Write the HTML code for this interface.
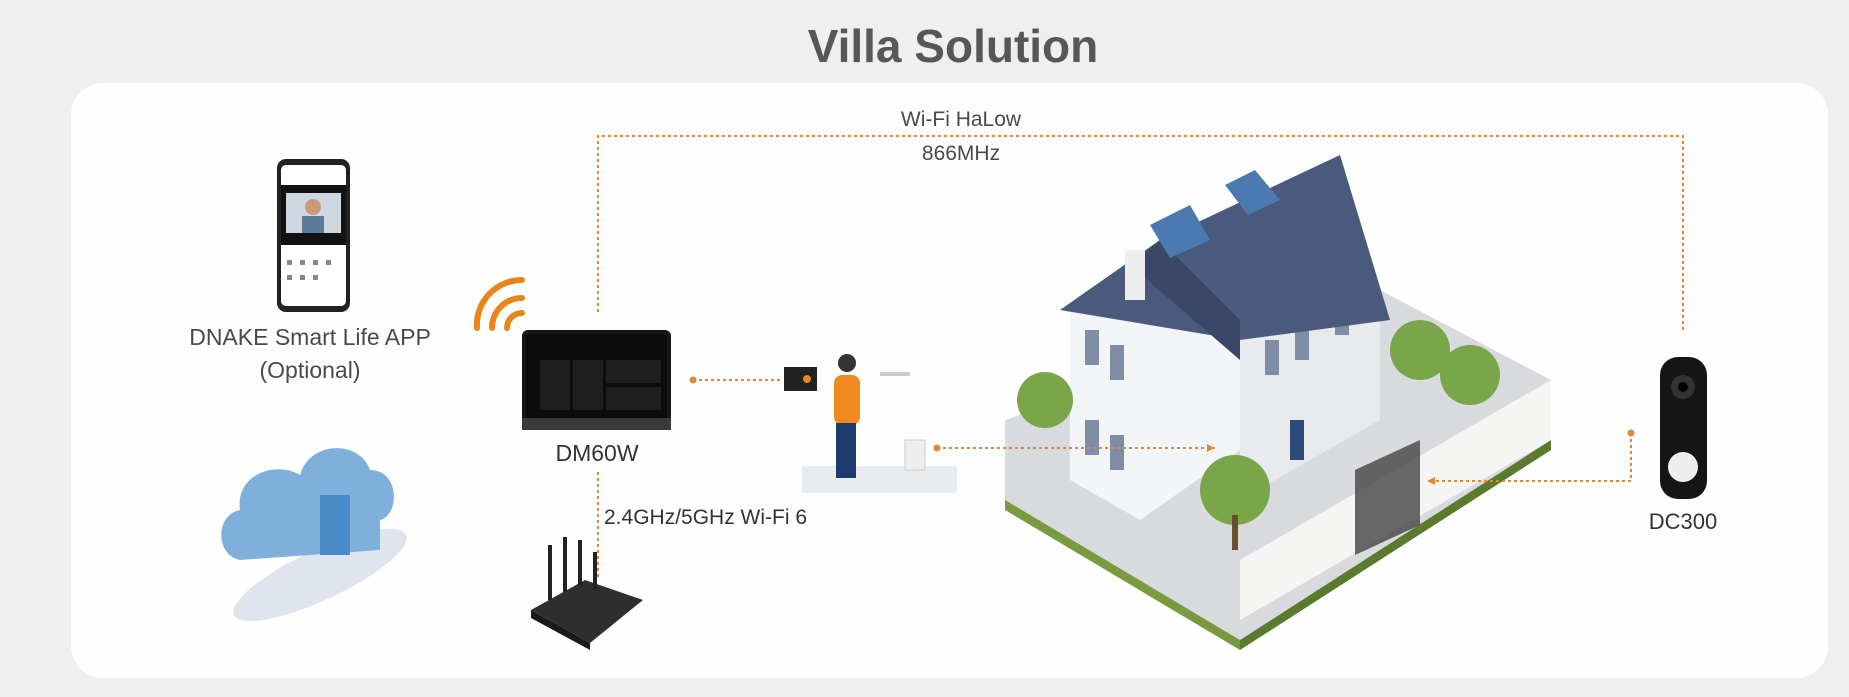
<!DOCTYPE html>
<html><head><meta charset="utf-8"><style>
html,body{margin:0;padding:0;width:1849px;height:697px;overflow:hidden;background:#efefef;font-family:"Liberation Sans",sans-serif}
</style></head><body>
<svg width="1849" height="697" viewBox="0 0 1849 697" xmlns="http://www.w3.org/2000/svg" font-family="Liberation Sans, sans-serif">
<rect x="0" y="0" width="1849" height="697" fill="#efefef"/>
<rect x="71" y="83" width="1757" height="595" rx="32" fill="#fefefe"/>
<text x="953" y="62" text-anchor="middle" font-size="46" font-weight="bold" fill="#575757">Villa Solution</text>
<g stroke="#e0883a" stroke-width="2" stroke-dasharray="3,3" fill="none">
<polyline points="598,312 598,136 1683,136 1683,330"/>
<line x1="693" y1="380" x2="782" y2="380"/>
<line x1="598" y1="472" x2="598" y2="578"/>
</g>
<circle cx="693" cy="380" r="3.5" fill="#e0883a"/>
<text x="961" y="126" text-anchor="middle" font-size="21" fill="#4a4a4a">Wi-Fi HaLow</text>
<text x="961" y="160" text-anchor="middle" font-size="21" fill="#4a4a4a">866MHz</text>
<!-- phone -->
<rect x="277" y="159" width="73" height="153" rx="9" fill="#222"/>
<rect x="281" y="165" width="65" height="141" rx="5" fill="#fff"/>
<rect x="281" y="185" width="65" height="60" fill="#111"/>
<rect x="286" y="193" width="55" height="40" fill="#cfd8e0"/>
<circle cx="313" cy="207" r="8" fill="#c99a7a"/><rect x="302" y="216" width="22" height="17" fill="#5a7a9a"/>
<g fill="#888"><rect x="287" y="260" width="5" height="5"/><rect x="300" y="260" width="5" height="5"/><rect x="313" y="260" width="5" height="5"/><rect x="326" y="260" width="5" height="5"/><rect x="287" y="275" width="5" height="5"/><rect x="300" y="275" width="5" height="5"/><rect x="313" y="275" width="5" height="5"/></g>
<text x="310" y="345" text-anchor="middle" font-size="23" fill="#4a4a4a">DNAKE Smart Life APP</text>
<text x="310" y="378" text-anchor="middle" font-size="23" fill="#4a4a4a">(Optional)</text>
<g stroke="#e8861e" stroke-width="6" fill="none" stroke-linecap="round">
<path d="M477,328 A45,45 0 0 1 522,280"/>
<path d="M492,328 A30,30 0 0 1 522,298"/>
<path d="M507,328 A15,15 0 0 1 522,313"/>
</g>
<!-- DM60W -->
<rect x="522" y="330" width="149" height="100" rx="6" fill="#161616"/>
<rect x="526" y="334" width="141" height="84" fill="#0c0c0c"/>
<g fill="#1e1e1e"><rect x="540" y="360" width="30" height="50"/><rect x="573" y="360" width="30" height="50"/><rect x="606" y="360" width="55" height="23"/><rect x="606" y="387" width="55" height="23"/></g>
<rect x="522" y="418" width="149" height="12" fill="#3a3a3a"/>
<text x="597" y="461" text-anchor="middle" font-size="23" fill="#333">DM60W</text>
<text x="604" y="524" font-size="21" fill="#333">2.4GHz/5GHz Wi-Fi 6</text>
<!-- person -->
<rect x="802" y="466" width="155" height="27" fill="#e9ecee"/>
<rect x="784" y="367" width="33" height="24" fill="#222"/>
<circle cx="807" cy="379" r="4" fill="#e8861e"/>
<circle cx="847" cy="363" r="9" fill="#333"/>
<rect x="834" y="375" width="26" height="50" rx="8" fill="#f08a20"/>
<rect x="836" y="423" width="20" height="55" fill="#1d3b6e"/>
<rect x="880" y="372" width="30" height="4" fill="#ccc"/>
<rect x="905" y="440" width="20" height="30" fill="#eee" stroke="#ccc"/>
<!-- router -->
<polygon points="531,610 585,580 643,600 590,643" fill="#2e2e2e"/>
<polygon points="531,610 590,643 590,650 531,618" fill="#1a1a1a"/>
<g stroke="#222" stroke-width="4"><line x1="550" y1="600" x2="550" y2="545"/><line x1="565" y1="592" x2="565" y2="537"/><line x1="580" y1="585" x2="580" y2="540"/><line x1="595" y1="590" x2="595" y2="552"/></g>
<!-- cloud -->
<ellipse cx="320" cy="575" rx="95" ry="25" fill="#dfe4ee" transform="rotate(-25 320 575)"/>
<path d="M240,560 C215,555 215,515 240,510 C235,475 275,460 300,475 C310,440 360,440 370,470 C400,470 400,515 380,520 L380,550 Z" fill="#7fb0dc"/>
<rect x="320" y="495" width="30" height="60" fill="#4b8ac8"/>
<!-- house -->
<polygon points="1005,500 1240,640 1551,440 1551,380 1380,290 1005,420" fill="#d9dadd"/>
<polygon points="1005,500 1240,640 1240,650 1005,510" fill="#7a9a40"/>
<polygon points="1240,640 1551,440 1551,450 1240,650" fill="#5a7a30"/>
<polygon points="1070,310 1140,290 1240,320 1240,450 1140,520 1070,480" fill="#f4f5f7"/>
<polygon points="1240,320 1360,260 1380,290 1380,420 1240,500" fill="#e8eaee"/>
<g fill="#7f8ea6"><rect x="1085" y="330" width="14" height="35"/><rect x="1110" y="345" width="14" height="35"/><rect x="1085" y="420" width="14" height="35"/><rect x="1110" y="435" width="14" height="35"/><rect x="1265" y="340" width="14" height="35"/><rect x="1295" y="325" width="14" height="35"/><rect x="1335" y="300" width="14" height="35"/><rect x="1290" y="420" width="14" height="40" fill="#2c4a7a"/></g>
<polygon points="1060,310 1160,240 1340,155 1390,320 1240,340" fill="#4a5a7c"/>
<polygon points="1160,240 1240,320 1240,360 1130,265" fill="#3a4868"/>
<rect x="1125" y="250" width="20" height="50" fill="#eee"/>
<polygon points="1150,225 1190,205 1210,240 1170,258" fill="#4a7ab0"/>
<polygon points="1225,185 1255,170 1280,200 1248,215" fill="#4a7ab0"/>
<circle cx="1235" cy="490" r="35" fill="#7aa64a"/><rect x="1232" y="515" width="6" height="35" fill="#6b4e2e"/>
<circle cx="1420" cy="350" r="30" fill="#7aa64a"/><circle cx="1470" cy="375" r="30" fill="#7aa64a"/>
<circle cx="1045" cy="400" r="28" fill="#7aa64a"/>
<polygon points="1240,560 1551,380 1551,440 1240,620" fill="#f7f7f5" opacity="0.9"/>
<polygon points="1355,470 1420,440 1420,525 1355,555" fill="#444" opacity="0.8"/>
<!-- connectors over house -->
<g stroke="#e0883a" stroke-width="2" stroke-dasharray="3,3" fill="none">
<line x1="937" y1="448" x2="1215" y2="448"/>
<polyline points="1631,433 1631,481 1427,481"/>
</g>
<circle cx="937" cy="448" r="3.5" fill="#e0883a"/><circle cx="1631" cy="433" r="3.5" fill="#e0883a"/>
<path d="M1215,448 l-8,-4 v8 z" fill="#e0883a"/><path d="M1427,481 l8,-4 v8 z" fill="#e0883a"/>
<!-- DC300 -->
<rect x="1660" y="357" width="47" height="142" rx="18" fill="#151515"/>
<circle cx="1683" cy="387" r="12" fill="#333"/><circle cx="1683" cy="387" r="5" fill="#000"/>
<circle cx="1683" cy="467" r="15" fill="#eee"/>
<text x="1683" y="529" text-anchor="middle" font-size="22" fill="#333">DC300</text>
</svg>
</body></html>
